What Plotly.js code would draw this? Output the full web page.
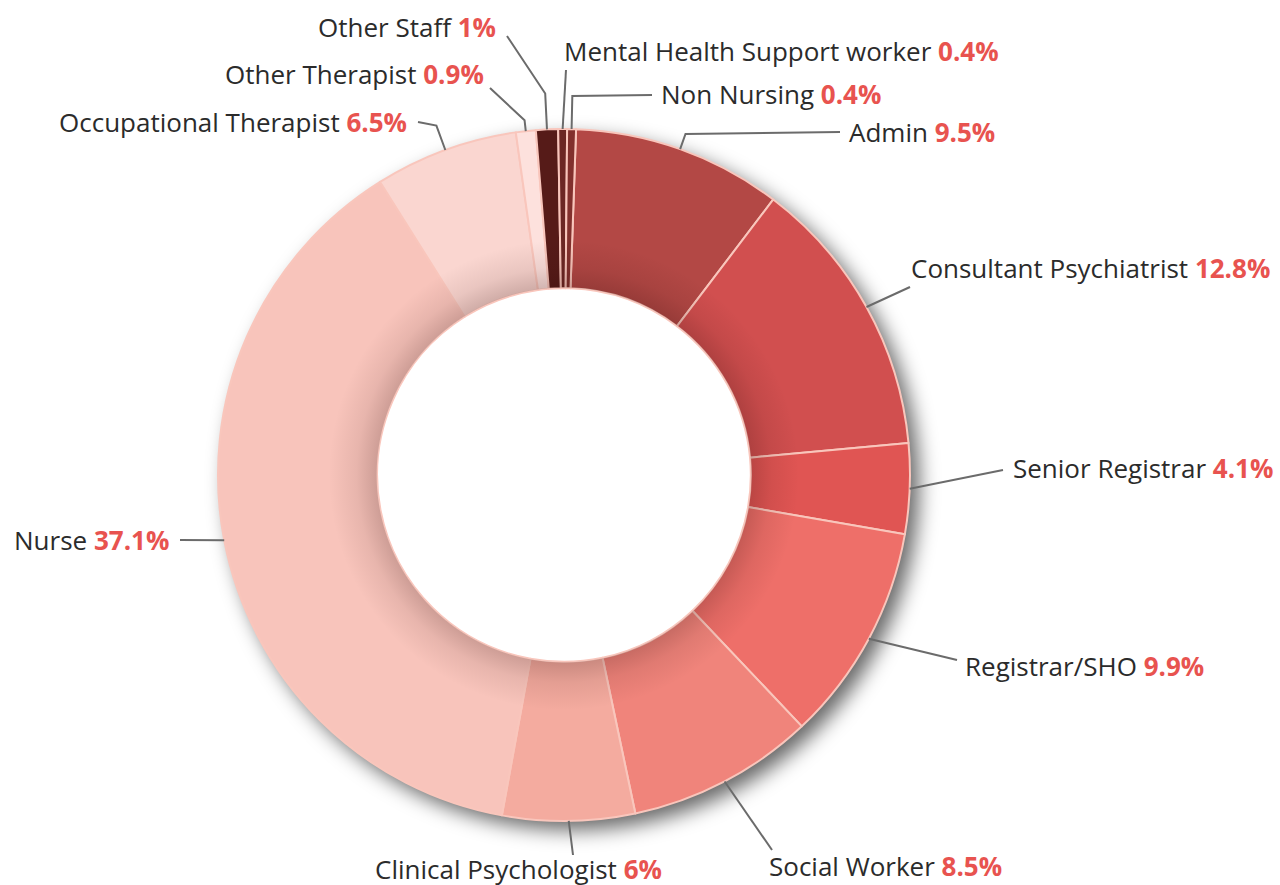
<!DOCTYPE html>
<html>
<head>
<meta charset="utf-8">
<script src="https://cdn.plot.ly/plotly-3.0.1.min.js"></script>
<style>html,body{margin:0;padding:0;background:#fff;}#chart{width:1280px;height:885px;}</style>
</head>
<body>
<div id="chart"></div>
<script>
// ---- DATA ----
const categories = ["Admin","Consultant Psychiatrist","Senior Registrar","Registrar/SHO","Social Worker","Clinical Psychologist","Nurse","Occupational Therapist","Other Therapist","Other Staff","Mental Health Support worker","Non Nursing"];
const percents = [9.5, 12.8, 4.1, 9.9, 8.5, 6, 37.1, 6.5, 0.9, 1, 0.4, 0.4];
const sliceColors = ["#b34845","#d14f4f","#e05553","#ee6f69","#f0847b","#f4ab9f","#f8c4bb","#fad6d0","#fde1dd","#561b18","#6c2724","#82302d"];

// ---- LAYOUT (label placement, pixels) ----
const W = 1280, H = 885;
const CX = 564, CY = 475, R = 346, HOLE = 0.54;
// text position, anchor, connector end, radial bend length
const labelLayout = {
  "Admin":                        {tx:848, ty:132, anchor:"left",   ex:840, ey:132, bend:16},
  "Consultant Psychiatrist":      {tx:910, ty:268, anchor:"left",   ex:910, ey:287, bend:0},
  "Senior Registrar":             {tx:1012,ty:468, anchor:"left",   ex:1003,ey:470, bend:0},
  "Registrar/SHO":                {tx:964, ty:666, anchor:"left",   ex:957, ey:660, bend:0},
  "Social Worker":                {tx:768, ty:866, anchor:"left",   ex:772, ey:850, bend:0},
  "Clinical Psychologist":        {tx:518, ty:869, anchor:"center", ex:573, ey:855, bend:0},
  "Nurse":                        {tx:170, ty:540, anchor:"right",  ex:180, ey:540, bend:0},
  "Occupational Therapist":       {tx:408, ty:122, anchor:"right",  ex:418, ey:122, bend:26},
  "Other Therapist":              {tx:485, ty:74,  anchor:"right",  ex:490, ey:88,  bend:11},
  "Other Staff":                  {tx:497, ty:27,  anchor:"right",  ex:507, ey:36,  bend:36},
  "Mental Health Support worker": {tx:563, ty:51,  anchor:"left",   ex:566, ey:70,  bend:0},
  "Non Nursing":                  {tx:660, ty:94,  anchor:"left",   ex:652, ey:95,  bend:33}
};

const px = x => x / W;
const py = y => 1 - y / H;

// shadows as SVG images
const pad = 60;
const S = 2 * R + 2 * pad;
const c0 = S / 2;
const shadowSvg = `<svg xmlns="http://www.w3.org/2000/svg" width="${S}" height="${S}" viewBox="0 0 ${S} ${S}">
<defs><filter id="b" x="-20%" y="-20%" width="140%" height="140%"><feGaussianBlur stdDeviation="10"/></filter>
<mask id="m"><rect width="${S}" height="${S}" fill="white"/><circle cx="${c0}" cy="${c0}" r="${R*HOLE+2}" fill="black"/></mask></defs>
<g mask="url(#m)"><circle cx="${c0+9}" cy="${c0+9}" r="${R}" fill="#000" fill-opacity="0.6" filter="url(#b)"/></g></svg>`;
const hp = HOLE;
const innerSvg = `<svg xmlns="http://www.w3.org/2000/svg" width="${S}" height="${S}" viewBox="0 0 ${S} ${S}">
<defs><radialGradient id="g" cx="${c0}" cy="${c0}" r="${R}" gradientUnits="userSpaceOnUse">
<stop offset="0" stop-color="#000" stop-opacity="0"/>
<stop offset="${hp}" stop-color="#000" stop-opacity="0"/>
<stop offset="${hp+0.003}" stop-color="#2a0806" stop-opacity="0.2"/>
<stop offset="${hp+0.06}" stop-color="#2a0806" stop-opacity="0.08"/>
<stop offset="${hp+0.14}" stop-color="#2a0806" stop-opacity="0"/>
<stop offset="1" stop-color="#000" stop-opacity="0"/></radialGradient></defs>
<circle cx="${c0}" cy="${c0}" r="${R}" fill="url(#g)"/></svg>`;
const svgURI = s => "data:image/svg+xml;charset=utf-8," + encodeURIComponent(s);

const trace = {
  type: "pie",
  labels: categories,
  values: percents,
  sort: false,
  direction: "clockwise",
  rotation: 2,
  hole: HOLE,
  textinfo: "none",
  hoverinfo: "label+value",
  marker: {colors: sliceColors, line: {color: "#f9c6bc", width: 2}},
  domain: {x: [px(CX - R), px(CX + R)], y: [py(CY + R), py(CY - R)]},
  showlegend: false
};

const layout = {
  width: W, height: H,
  margin: {l: 0, r: 0, t: 0, b: 0},
  paper_bgcolor: "#ffffff",
  plot_bgcolor: "rgba(0,0,0,0)",
  font: {family: "Open Sans, sans-serif", size: 26, color: "#2b2b2b"},
  showlegend: false,
  images: [
    {source: svgURI(shadowSvg), xref: "paper", yref: "paper", x: px(CX - c0), y: py(CY - c0),
     sizex: S / W, sizey: S / H, xanchor: "left", yanchor: "top", sizing: "stretch", layer: "below"},
    {source: svgURI(innerSvg), xref: "paper", yref: "paper", x: px(CX - c0), y: py(CY - c0),
     sizex: S / W, sizey: S / H, xanchor: "left", yanchor: "top", sizing: "stretch", layer: "above"}
  ]
};

Plotly.newPlot("chart", [trace], layout, {displayModeBar: false, staticPlot: true}).then(gd => {
  const cd = gd.calcdata[0];
  const cx = cd[0].cx, cy = cd[0].cy, r = cd[0].r;
  const annotations = [], shapes = [];
  cd.forEach((pt, i) => {
    const name = categories[i];
    const L = labelLayout[name];
    const ang = pt.midangle;
    const ux = Math.sin(ang), uy = -Math.cos(ang);
    const ax = cx + r * ux, ay = cy + r * uy;
    const bx = ax + L.bend * ux, by = ay + L.bend * uy;
    let path = `M${px(ax)},${py(ay)}`;
    if (L.bend > 0) path += ` L${px(bx)},${py(by)}`;
    path += ` L${px(L.ex)},${py(L.ey)}`;
    shapes.push({type: "path", xref: "paper", yref: "paper", path: path,
      line: {color: "#6b6b6b", width: 2}, layer: "above"});
    annotations.push({
      xref: "paper", yref: "paper", x: px(L.tx), y: py(L.ty),
      xanchor: L.anchor, yanchor: "middle", showarrow: false, borderpad: 0,
      text: `${name} <span style="color:#e8534f"><b>${percents[i]}%</b></span>`,
      font: {family: "Open Sans, sans-serif", size: 26, color: "#2b2b2b"}
    });
  });
  return Plotly.relayout(gd, {annotations: annotations, shapes: shapes});
});
</script>
</body>
</html>
